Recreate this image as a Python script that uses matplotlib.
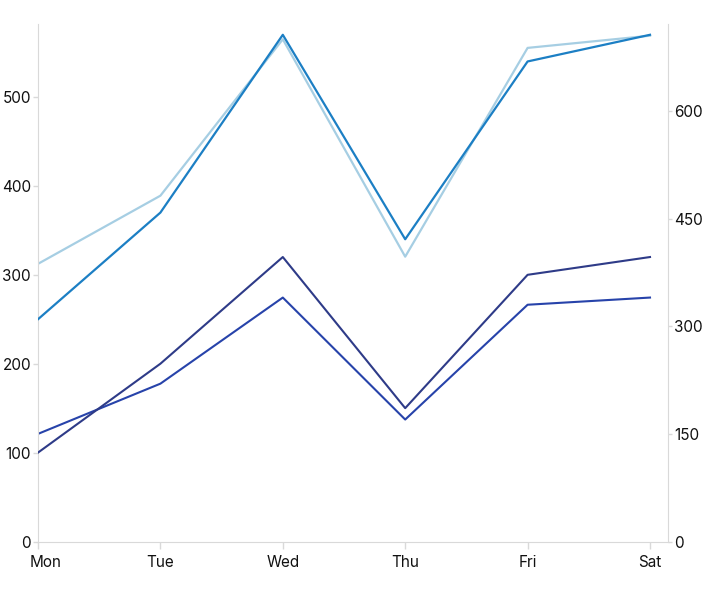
import matplotlib.pyplot as plt
from matplotlib.transforms import ScaledTranslation

plt.rcParams['font.family'] = ['Inter', 'DejaVu Sans']

days = ['Mon', 'Tue', 'Wed', 'Thu', 'Fri', 'Sat']

# left axis series
series_dark = [100, 200, 320, 150, 300, 320]
series_blue = [250, 370, 570, 340, 540, 570]

# right axis series
series_light = [387, 482, 700, 397, 688, 705]
series_navy = [150, 220, 340, 170, 330, 340]

left_ticks = [0, 100, 200, 300, 400, 500]
right_ticks = [0, 150, 300, 450, 600]

fig = plt.figure(figsize=(7.06, 5.96), dpi=100)
ax = fig.add_axes([38 / 706, (596 - 541.5) / 596, 630 / 706, 518 / 596])
ax2 = ax.twinx()

x = list(range(len(days)))
ax2.plot(x, series_light, color='#a6cee3', lw=1.6, zorder=2)
ax.plot(x, series_blue, color='#1c7fc4', lw=1.6, zorder=3)
ax.plot(x, series_dark, color='#2e3b88', lw=1.5, zorder=3)
ax2.plot(x, series_navy, color='#2743aa', lw=1.5, zorder=3)

ax.set_zorder(ax2.get_zorder() + 1)
ax.patch.set_visible(False)

ax.set_xlim(0, 5.147)
ax.set_ylim(0, 582.7)
ax2.set_ylim(0, 722)

ax.set_xticks(x)
ax.set_xticklabels(days)
ax.set_yticks(left_ticks)
ax2.set_yticks(right_ticks)

grey = '#d9d9d9'
for a in (ax, ax2):
    for s in a.spines.values():
        s.set_color(grey)
    a.spines['top'].set_visible(False)
    a.tick_params(colors=grey, labelcolor='#111111', labelsize=11, width=1)
ax.spines['right'].set_visible(False)
ax2.spines['left'].set_visible(False)
ax2.spines['bottom'].set_visible(False)
ax.tick_params(axis='y', length=3.5, pad=1.5)
ax2.tick_params(axis='y', length=3, pad=1.5)
ax.tick_params(axis='x', length=5, pad=5)

# first x label sits clamped to the left edge
first = ax.get_xticklabels()[0]
first.set_horizontalalignment('left')
first.set_transform(first.get_transform() + ScaledTranslation(-8 / 100, 0, fig.dpi_scale_trans))

fig.savefig('out.png', dpi=100)
